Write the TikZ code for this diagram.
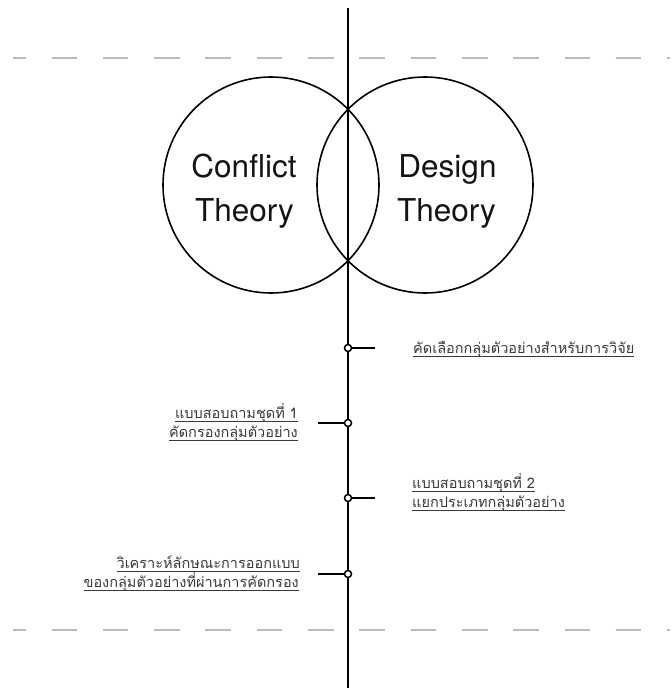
\documentclass[tikz,border=0pt]{standalone}
\usepackage{fontspec}
\setmainfont{TeX Gyre Heros}
\newfontfamily\thaifont[Script=Thai]{Loma}
\definecolor{dashgray}{HTML}{BDBDBD}
\definecolor{thaigray}{HTML}{3A3A3A}
\newcommand\ulx[1]{\leavevmode\setbox0\hbox{#1}\rlap{\rule[-3.2pt]{\wd0}{0.7pt}}\box0}
\tikzset{
  mainline/.style={line width=2pt, black},
  ring/.style={circle, draw, line width=1.6pt, inner sep=0pt, minimum size=216pt},
  dot/.style={circle, draw, fill=white, line width=1.5pt, inner sep=0pt, minimum size=7pt},
  tick/.style={line width=2pt, black},
  dashline/.style={line width=2pt, dashgray, dash pattern=on 25.6pt off 25.7pt, dash phase=12.8pt},
  bigtext/.style={anchor=base, inner sep=0pt, font=\fontsize{31.5}{31}\selectfont, text=black!92},
  thaiR/.style={anchor=base west, inner sep=0pt, font=\thaifont\fontsize{14.5}{19}\selectfont, text=thaigray},
  thaiL/.style={anchor=base east, inner sep=0pt, font=\thaifont\fontsize{14.5}{19}\selectfont, text=thaigray}
}
\begin{document}
\begin{tikzpicture}[x=1pt,y=-1pt]
\useasboundingbox[fill=white] (0,0) rectangle (670,688);
% dashed lines
\coordinate (dl1) at (13,58); \coordinate (dr1) at (670,58);
\coordinate (dl2) at (13,630); \coordinate (dr2) at (670,630);
\draw[dashline] (dl1) -- (dr1);
\draw[dashline] (dl2) -- (dr2);
% circles
\node[ring] (cl) at (271,185) {};
\node[ring] (cr) at (425,185) {};
% main vertical line
\coordinate (top) at (348,8);
\coordinate (bot) at (348,688);
\draw[mainline] (top) -- (bot);
% titles
\node[bigtext] (c1) at (244,177) {Conflict};
\node[bigtext] (c2) at (244.5,221) {Theory};
\node[bigtext] (s1) at (447.5,177) {Design};
\node[bigtext] (s2) at (446.5,221) {Theory};
% dots and ticks
\coordinate (e1) at (375,348);
\coordinate (e2) at (318,423);
\coordinate (e3) at (375,498);
\coordinate (e4) at (318,574);
\draw[tick] (348,348) -- (e1);
\draw[tick] (348,423) -- (e2);
\draw[tick] (348,498) -- (e3);
\draw[tick] (348,574) -- (e4);
\node[dot] (d1) at (348,348) {};
\node[dot] (d2) at (348,423) {};
\node[dot] (d3) at (348,498) {};
\node[dot] (d4) at (348,574) {};
% labels
\node[thaiR] (t1) at (413,353) {\ulx{คัดเลือกกลุ่มตัวอย่างสำหรับการวิจัย}};
\node[thaiL] (t2a) at (298,418) {\ulx{แบบสอบถามชุดที่ 1}};
\node[thaiL] (t2b) at (298,437) {\ulx{คัดกรองกลุ่มตัวอย่าง}};
\node[thaiR] (t3a) at (412,488) {\ulx{แบบสอบถามชุดที่ 2}};
\node[thaiR] (t3b) at (412,507) {\ulx{แยกประเภทกลุ่มตัวอย่าง}};
\node[thaiL] (t4a) at (300,568) {\ulx{วิเคราะห์ลักษณะการออกแบบ}};
\node[thaiL] (t4b) at (299,587) {\ulx{ของกลุ่มตัวอย่างที่ผ่านการคัดกรอง}};
\end{tikzpicture}
\end{document}
